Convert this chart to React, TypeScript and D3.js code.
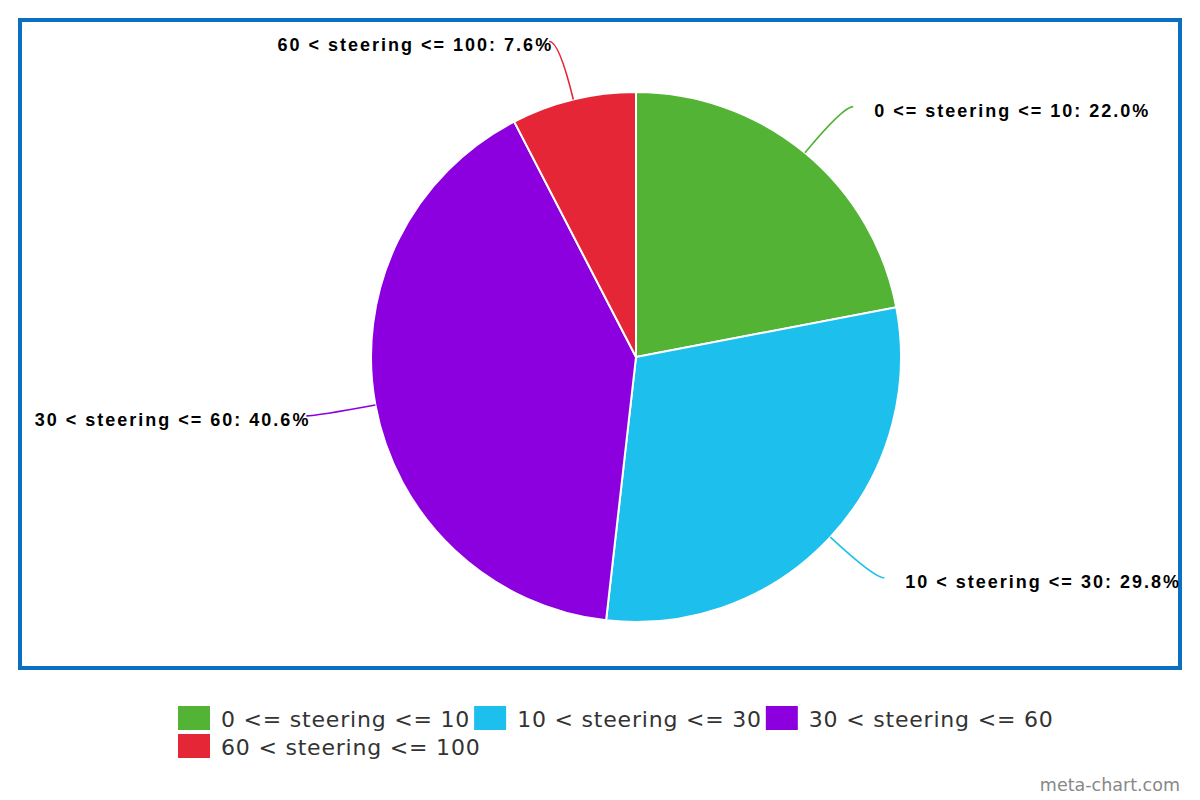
import React, { useEffect, useRef } from 'react';
import * as d3 from 'd3';

const categories = ['0 <= steering <= 10', '10 < steering <= 30', '30 < steering <= 60', '60 < steering <= 100'];
const shares = [22.0, 29.8, 40.6, 7.6];
const colors = ['#52b334', '#1dbfec', '#8c00e0', '#e42636'];
const watermark = 'meta-chart.com';

export default function App() {
  const ref = useRef<SVGSVGElement>(null);

  useEffect(() => {
    document.body.style.margin = '0';
    const svg = d3.select(ref.current as SVGSVGElement);
    svg.selectAll('*').remove();

    // frame
    svg.append('rect')
      .attr('x', 20).attr('y', 20).attr('width', 1160).attr('height', 648)
      .attr('fill', '#fff').attr('stroke', '#0b70c3').attr('stroke-width', 4);

    const cx = 636, cy = 357, R = 265;
    const pie = d3.pie<number>().value((d) => d).sort(null);
    const arcs = pie(shares);
    const arc = d3.arc<d3.PieArcDatum<number>>().innerRadius(0).outerRadius(R);
    const g = svg.append('g').attr('transform', `translate(${cx},${cy})`);

    g.selectAll('path.slice').data(arcs).join('path')
      .attr('class', 'slice')
      .attr('d', arc as any)
      .attr('fill', (_d, i) => colors[i])
      .attr('stroke', '#fff').attr('stroke-width', 2);

    const polar = (r: number, a: number): [number, number] => [r * Math.sin(a), -r * Math.cos(a)];
    const ls = 2;

    arcs.forEach((d, i) => {
      const a = (d.startAngle + d.endAngle) / 2;
      const side = Math.sin(a) >= 0 ? 1 : -1;
      const p0 = polar(R, a);
      const p1 = polar(R + 60, a);
      const p2: [number, number] = [p1[0] + 10 * side, p1[1]];
      g.append('path')
        .attr('d', `M${p0[0]},${p0[1]}Q${p1[0]},${p1[1]} ${p2[0]},${p2[1]}`)
        .attr('fill', 'none')
        .attr('stroke', colors[i])
        .attr('stroke-width', 1.6);
      g.append('text')
        .attr('x', side > 0 ? p2[0] + 21 : p2[0] + 2 + ls)
        .attr('y', p2[1] + 10)
        .attr('text-anchor', side > 0 ? 'start' : 'end')
        .attr('font-family', '"Liberation Sans", Arial, sans-serif')
        .attr('font-weight', 'bold')
        .attr('font-size', 18)
        .attr('letter-spacing', ls)
        .attr('fill', '#000')
        .text(`${categories[i]}: ${d.data.toFixed(1)}%`);
    });

    // legend
    const legend = svg.append('g');
    const startX = 178, maxX = 1080;
    let x = startX, y = 706;
    categories.forEach((c, i) => {
      const t = legend.append('text')
        .attr('font-family', '"DejaVu Sans", Verdana, sans-serif')
        .attr('font-size', 22)
        .attr('letter-spacing', 0.8)
        .attr('fill', '#333')
        .text(c);
      const w = (t.node() as SVGTextElement).getComputedTextLength();
      if (x + 43 + w > maxX) {
        x = startX;
        y += 28;
      }
      legend.append('rect')
        .attr('x', x).attr('y', y).attr('width', 32).attr('height', 24)
        .attr('fill', colors[i]);
      t.attr('x', x + 43).attr('y', y + 21);
      x = x + 43 + w + 4;
    });

    svg.append('text')
      .attr('x', 1180).attr('y', 791)
      .attr('text-anchor', 'end')
      .attr('font-family', '"DejaVu Sans", Verdana, sans-serif')
      .attr('font-size', 17.5)
      .attr('fill', '#888')
      .text(watermark);
  }, []);

  return <svg ref={ref} width={1200} height={800} style={{ display: 'block', background: '#fff' }} />;
}
